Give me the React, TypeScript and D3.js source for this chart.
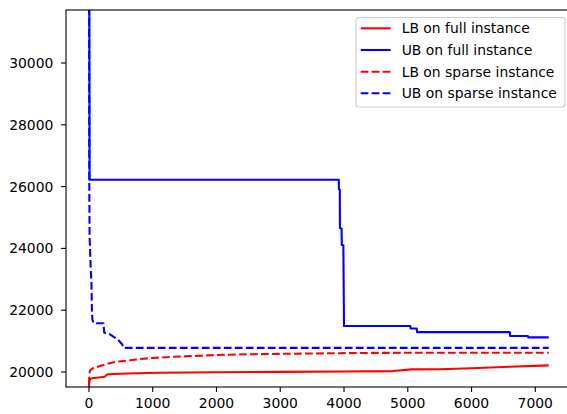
import React from "react";
import * as d3 from "d3";

type P = [number, number];

const ubFull: P[] = [
  [0, 40000], [10, 26220], [3918, 26220], [3920, 25920], [3934, 25900], [3936, 24660],
  [3962, 24640], [3965, 24110], [3990, 24100], [4000, 21490], [5040, 21490], [5045, 21410],
  [5140, 21410], [5145, 21290], [6600, 21290], [6605, 21165], [6885, 21165], [6890, 21120],
  [7210, 21120],
];

const ubSparse: P[] = [
  [0, 40000], [5, 26200], [10, 24400], [25, 23500], [40, 22800], [47, 21900], [55, 21700],
  [72, 21580], [228, 21580], [240, 21270], [330, 21220], [400, 21120], [458, 21040],
  [520, 20900], [541, 20780], [7210, 20780],
];

const lbFull: P[] = [
  [0, 19520], [5, 19650], [15, 19760], [50, 19800], [150, 19820], [250, 19845], [270, 19900],
  [300, 19925], [600, 19950], [1100, 19975], [2000, 19990], [3000, 20005], [4000, 20015],
  [4770, 20030], [5060, 20085], [5500, 20090], [6000, 20120], [6600, 20170], [7210, 20215],
];

const lbSparse: P[] = [
  [0, 19600], [5, 19900], [15, 20050], [60, 20120], [150, 20180], [250, 20240], [350, 20300],
  [430, 20333], [640, 20380], [800, 20420], [1000, 20455], [1300, 20490], [1630, 20518],
  [2000, 20550], [2500, 20575], [3500, 20600], [4500, 20620], [7210, 20625],
];

const xTicks = [0, 1000, 2000, 3000, 4000, 5000, 6000, 7000];
const yTicks = [20000, 22000, 24000, 26000, 28000, 30000];

const seriesNames = [
  "LB on full instance",
  "UB on full instance",
  "LB on sparse instance",
  "UB on sparse instance",
];

export default function App() {
  const W = 567, H = 414;
  const left = 66, right = 571, top = 10, bottom = 387;
  const x = d3.scaleLinear().domain([-360, 7560]).range([left, right]);
  const y = d3.scaleLinear().domain([19515, 31715]).range([bottom, top]);
  const line = d3.line<P>().x((d) => x(d[0])).y((d) => y(d[1]));
  const font = "DejaVu Sans, sans-serif";
  const fs = 13.9;
  const dash = "7.7,3.3";

  const series = [
    { data: lbFull, color: "#ff0000", dash: undefined },
    { data: ubFull, color: "#0000ff", dash: undefined },
    { data: lbSparse, color: "#ff0000", dash },
    { data: ubSparse, color: "#0000ff", dash },
  ];

  const legX = 356, legY = 17.5, legW = 209, legH = 89.5;
  const rowY = [28.3, 50, 71.7, 93.3];

  return (
    <svg width={W} height={H} style={{ position: "absolute", left: 0, top: 0 }}>
      <rect x={0} y={0} width={W} height={H} fill="#fff" />
      <defs>
        <clipPath id="plotclip">
          <rect x={left} y={top} width={right - left} height={bottom - top} />
        </clipPath>
      </defs>
      <g clipPath="url(#plotclip)">
        {series.map((s, i) => (
          <path
            key={i}
            d={line(s.data) || ""}
            fill="none"
            stroke={s.color}
            strokeWidth={2.08}
            strokeDasharray={s.dash}
            strokeLinejoin="round"
          />
        ))}
      </g>
      <rect x={left} y={top} width={right - left} height={bottom - top} fill="none" stroke="#000" strokeWidth={1.1} />
      {xTicks.map((t) => (
        <g key={t}>
          <line x1={x(t)} x2={x(t)} y1={bottom} y2={bottom + 4.9} stroke="#000" strokeWidth={1.1} />
          <text x={x(t)} y={408} textAnchor="middle" fontFamily={font} fontSize={fs} fill="#000">
            {t}
          </text>
        </g>
      ))}
      {yTicks.map((t) => (
        <g key={t}>
          <line x1={left - 4.9} x2={left} y1={y(t)} y2={y(t)} stroke="#000" strokeWidth={1.1} />
          <text x={left - 12.6} y={y(t)} dy="0.36em" textAnchor="end" fontFamily={font} fontSize={fs} fill="#000">
            {t}
          </text>
        </g>
      ))}
      <rect x={legX} y={legY} width={legW} height={legH} rx={3} fill="#fff" fillOpacity={0.8} stroke="#cccccc" strokeWidth={1.1} />
      {seriesNames.map((n, i) => (
        <g key={n}>
          <line
            x1={360.7}
            x2={390.7}
            y1={rowY[i]}
            y2={rowY[i]}
            stroke={series[i].color}
            strokeWidth={2.08}
            strokeDasharray={series[i].dash}
          />
          <text x={401.7} y={rowY[i]} dy="0.36em" fontFamily={font} fontSize={fs} fill="#000">
            {n}
          </text>
        </g>
      ))}
    </svg>
  );
}
